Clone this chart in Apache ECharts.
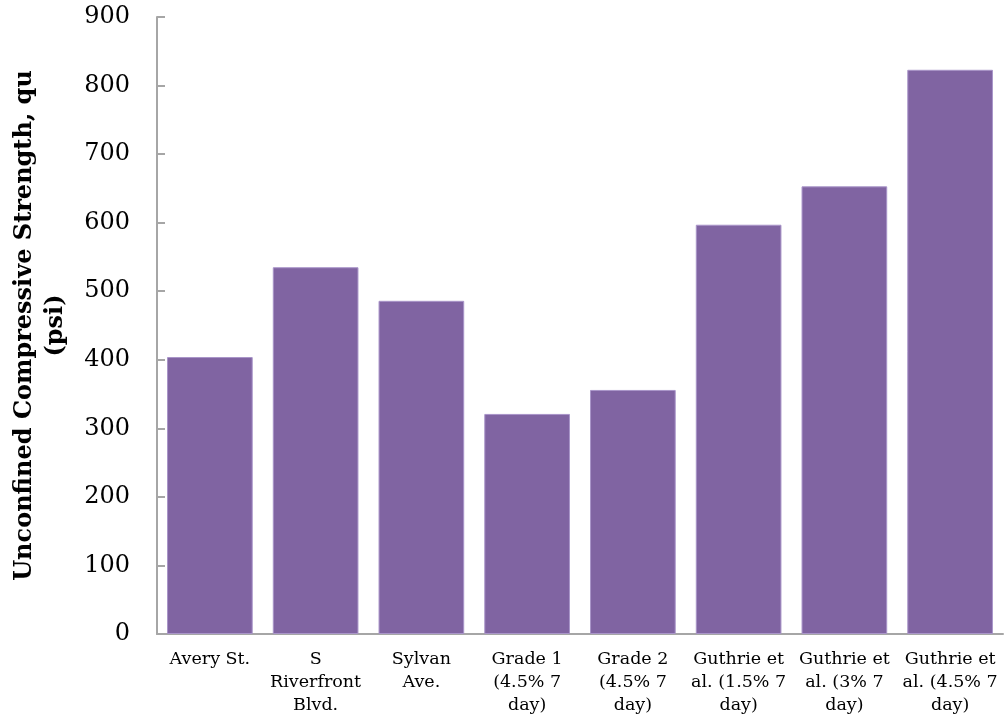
<!DOCTYPE html>
<html>
<head>
<meta charset="utf-8">
<script src="https://cdn.jsdelivr.net/npm/echarts@6/dist/echarts.min.js"></script>
<style>
html,body{margin:0;padding:0;background:#fff;}
#chart{width:1005px;height:723px;}
</style>
</head>
<body>
<div id="chart"></div>
<script>
const categories = [
  'Avery St.',
  'S\nRiverfront\nBlvd.',
  'Sylvan\nAve.',
  'Grade 1\n(4.5% 7\nday)',
  'Grade 2\n(4.5% 7\nday)',
  'Guthrie et\nal. (1.5% 7\nday)',
  'Guthrie et\nal. (3% 7\nday)',
  'Guthrie et\nal. (4.5% 7\nday)'
];
const strengthValues = [404, 535, 486, 321, 356, 597, 653, 823];
const yTicks = { min: 0, max: 900, interval: 100 };

const serif = 'DejaVu Serif, Liberation Serif, serif';
const chart = echarts.init(document.getElementById('chart'));
chart.setOption({
  animation: false,
  textStyle: { fontFamily: serif },
  grid: { left: 157, right: 2, top: 17, bottom: 89, containLabel: false, outerBoundsMode: 'none' },
  xAxis: {
    type: 'category',
    data: categories,
    axisLine: { lineStyle: { color: '#A6A6A6', width: 2 } },
    axisTick: { show: false },
    axisLabel: {
      color: '#000', fontSize: 17.5, lineHeight: 23, margin: 14, interval: 0,
      fontFamily: serif
    }
  },
  yAxis: {
    type: 'value',
    min: yTicks.min, max: yTicks.max, interval: yTicks.interval,
    name: 'Unconfined Compressive Strength, qu\n(psi)',
    nameLocation: 'middle',
    nameGap: 86,
    nameTextStyle: { color: '#000', fontSize: 24, fontWeight: 'bold', lineHeight: 31, fontFamily: serif },
    axisLine: { show: true, lineStyle: { color: '#A6A6A6', width: 2 } },
    axisTick: { show: true, inside: true, length: 8, lineStyle: { color: '#A6A6A6', width: 2 } },
    splitLine: { show: false },
    axisLabel: { color: '#000', fontSize: 24, margin: 27, fontFamily: serif }
  },
  series: [{
    type: 'bar',
    data: strengthValues,
    barCategoryGap: '19%',
    itemStyle: { color: '#8064A2', borderColor: '#A995C9', borderWidth: 1 }
  }]
});
</script>
</body>
</html>
